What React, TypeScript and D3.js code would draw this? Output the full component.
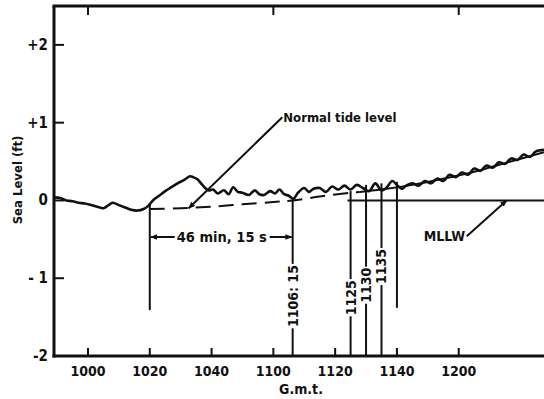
import React from "react";
import * as d3 from "d3";

// minutes after 1000 G.m.t.
const obsTime = [-11, -9, -7, -5, -3, -1, 1, 3, 5, 7, 8, 10, 12, 14, 16, 18, 19.5, 21, 23, 25, 27, 29, 31, 33, 34, 35.5, 37, 39, 40.5, 42, 44, 45.5, 47, 48.5, 50, 52, 54, 55.5, 57, 59, 60.5, 62, 63.5, 65, 66.5, 68, 70, 71.5, 73, 75, 77, 79, 81, 83, 85, 87, 89, 91, 93, 95, 96.5, 98.5, 100, 101.5, 103, 105, 107, 109, 111, 113, 115, 117, 119, 121, 123, 125, 127, 129, 131, 133, 135, 137, 139, 141, 143, 145, 147.6];
const obsLevel = [0.04, 0.03, 0.0, -0.01, -0.03, -0.04, -0.06, -0.08, -0.1, -0.05, -0.03, -0.06, -0.09, -0.12, -0.13, -0.11, -0.07, 0.0, 0.06, 0.12, 0.17, 0.22, 0.26, 0.31, 0.3, 0.27, 0.2, 0.13, 0.14, 0.09, 0.13, 0.08, 0.17, 0.11, 0.1, 0.07, 0.13, 0.08, 0.07, 0.12, 0.09, 0.14, 0.08, 0.06, 0.02, 0.1, 0.16, 0.11, 0.15, 0.16, 0.11, 0.18, 0.14, 0.19, 0.14, 0.2, 0.16, 0.12, 0.22, 0.13, 0.16, 0.25, 0.2, 0.15, 0.19, 0.22, 0.19, 0.25, 0.22, 0.28, 0.25, 0.33, 0.3, 0.36, 0.33, 0.41, 0.38, 0.45, 0.42, 0.49, 0.47, 0.54, 0.52, 0.59, 0.56, 0.63, 0.65];

const tideTime = [20, 30, 40, 50, 60, 66.25, 75, 85, 88, 95, 105, 115, 125, 135, 147.6];
const tideLevel = [-0.11, -0.1, -0.08, -0.05, -0.02, 0.0, 0.05, 0.1, 0.11, 0.14, 0.2, 0.28, 0.37, 0.48, 0.62];
const tideDashedUntil = 88;

const mllwStart = 84;

const xTickValues = [0, 20, 40, 60, 80, 100, 120];
const xTickLabels = ["1000", "1020", "1040", "1100", "1120", "1140", "1200"];
const xTopTicks = [0, 60, 120];
const yTickValues = [2, 1, 0, -1];
const yTickLabelValues = [2, 1, 0, -1, -2];
const yTickLabels = ["+2", "+1", "0", "- 1", "-2"];

const markerTimes = [20, 66.25, 85, 90, 95, 100];
const markerLabels = ["", "1106: 15", "1125", "1130", "1135", ""];
const markerTopLevel = [-0.05, 0.0, 0.12, 0.2, 0.22, 0.24];
const markerBottomLevel = [-1.41, -2, -2, -2, -2, -1.38];
const markerLabelLevel = [0, -1.23, -1.25, -1.09, -0.85, 0];

const intervalStart = 20;
const intervalEnd = 66.25;
const intervalLevel = -0.47;
const intervalLabel = "46 min, 15 s";

const FONT = "'Liberation Sans Narrow', 'DejaVu Sans Condensed', 'Liberation Sans', Arial, sans-serif";

export default function App() {
  const x = d3.scaleLinear().domain([-11, 147.6]).range([54, 544]);
  const y = d3.scaleLinear().domain([-2, 2.5]).range([356, 6]);
  const line = d3.line<[number, number]>().x((d) => x(d[0])).y((d) => y(d[1])).curve(d3.curveCatmullRom.alpha(0.5));

  const obs = obsTime.map((t, i) => [t, obsLevel[i]] as [number, number]);
  const tide = tideTime.map((t, i) => [t, tideLevel[i]] as [number, number]);
  const tideDash = tide.filter((d) => d[0] <= tideDashedUntil);
  const tideSolid = tide.filter((d) => d[0] >= tideDashedUntil);

  const x0 = x.range()[0];
  const x1 = x.range()[1];
  const yTop = y(2.5);
  const yBot = y(-2);

  const labelFont = 14;

  return (
    <svg width={544} height={399} style={{ position: "absolute", left: 0, top: 0, background: "#fff" }}>
      <defs>
        <marker id="ah" viewBox="0 0 10 10" refX="9" refY="5" markerWidth="7" markerHeight="7" orient="auto" markerUnits="userSpaceOnUse">
          <path d="M0,1 L10,5 L0,9 z" fill="#111" />
        </marker>
      </defs>
      <rect width={544} height={399} fill="#fff" />
      {/* frame */}
      <g stroke="#111" strokeWidth={3} fill="none">
        <line x1={x0} y1={yTop} x2={x0} y2={yBot + 1.5} />
        <line x1={x0 - 1.5} y1={yTop} x2={x1} y2={yTop} />
        <line x1={x0 - 1.5} y1={yBot} x2={x1} y2={yBot} />
      </g>
      {/* ticks */}
      <g stroke="#111" strokeWidth={2}>
        {xTickValues.map((v) => (
          <line key={"bt" + v} x1={x(v)} x2={x(v)} y1={yBot} y2={yBot - 8} />
        ))}
        {xTopTicks.map((v) => (
          <line key={"tt" + v} x1={x(v)} x2={x(v)} y1={yTop} y2={yTop + 9} />
        ))}
        {yTickValues.map((v) => (
          <line key={"yt" + v} x1={x0} x2={x0 + 10} y1={y(v)} y2={y(v)} />
        ))}
      </g>
      <g fontFamily={FONT} fontWeight="bold" fill="#111">
        {xTickValues.map((v, i) => (
          <text key={"xl" + v} x={x(v)} y={376} fontSize={14} textAnchor="middle">{xTickLabels[i]}</text>
        ))}
        {yTickLabelValues.map((v, i) => (
          <text key={"yl" + v} x={48} y={y(v) + 5} fontSize={15} textAnchor="end">{yTickLabels[i]}</text>
        ))}
        <text x={301} y={394} fontSize={14} textAnchor="middle">G.m.t.</text>
        <text transform={`translate(22,180) rotate(-90)`} fontSize={13} textAnchor="middle">Sea Level (ft)</text>
      </g>
      {/* MLLW line */}
      <line x1={x(mllwStart)} x2={x1} y1={y(0)} y2={y(0)} stroke="#111" strokeWidth={2} />
      {/* normal tide */}
      <path d={line(tideDash) || ""} fill="none" stroke="#111" strokeWidth={2} strokeDasharray="15,8" />
      <path d={line(tideSolid) || ""} fill="none" stroke="#111" strokeWidth={2} />
      {/* observed */}
      <path d={line(obs) || ""} fill="none" stroke="#111" strokeWidth={2.6} strokeLinejoin="round" />
      {/* markers */}
      <g stroke="#111" strokeWidth={2}>
        {markerTimes.map((t, i) => {
          const xm = x(t);
          if (!markerLabels[i]) {
            return <line key={"m" + i} x1={xm} x2={xm} y1={y(markerTopLevel[i])} y2={y(markerBottomLevel[i])} />;
          }
          const half = markerLabels[i].length * 3.4 + 5;
          const cy = y(markerLabelLevel[i]);
          return (
            <g key={"m" + i}>
              <line x1={xm} x2={xm} y1={y(markerTopLevel[i])} y2={cy - half} />
              <line x1={xm} x2={xm} y1={cy + half} y2={y(markerBottomLevel[i])} />
            </g>
          );
        })}
      </g>
      <g fontFamily={FONT} fontWeight="bold" fill="#111">
        {markerTimes.map((t, i) =>
          markerLabels[i] ? (
            <text key={"ml" + i} transform={`translate(${x(t) + 5},${y(markerLabelLevel[i])}) rotate(-90)`} fontSize={labelFont} textAnchor="middle">
              {markerLabels[i]}
            </text>
          ) : null
        )}
      </g>
      {/* interval annotation */}
      <g stroke="#111" strokeWidth={2}>
        <line x1={x(intervalStart) + 25} x2={x(intervalStart) + 1} y1={y(intervalLevel)} y2={y(intervalLevel)} markerEnd="url(#ah)" />
        <line x1={x(intervalEnd) - 23} x2={x(intervalEnd) - 1} y1={y(intervalLevel)} y2={y(intervalLevel)} markerEnd="url(#ah)" />
      </g>
      <text x={x(intervalStart) + 27} y={y(intervalLevel) + 5} fontFamily={FONT} fontWeight="bold" fontSize={14.5} fill="#111">{intervalLabel}</text>
      {/* Normal tide level pointer */}
      <line x1={x(62.9)} y1={y(1.07)} x2={x(32.6)} y2={y(-0.1)} stroke="#111" strokeWidth={2} markerEnd="url(#ah)" />
      <text x={x(62.9) + 1} y={y(1.07) + 5} fontFamily={FONT} fontWeight="bold" fontSize={13} fill="#111">Normal tide level</text>
      {/* MLLW pointer */}
      <line x1={x(122.6)} y1={y(-0.46)} x2={x(135.5)} y2={y(0.0)} stroke="#111" strokeWidth={2} markerEnd="url(#ah)" />
      <text x={x(122.4) - 1} y={y(-0.46) + 5} fontFamily={FONT} fontWeight="bold" fontSize={14} fill="#111" textAnchor="end">MLLW</text>
    </svg>
  );
}
